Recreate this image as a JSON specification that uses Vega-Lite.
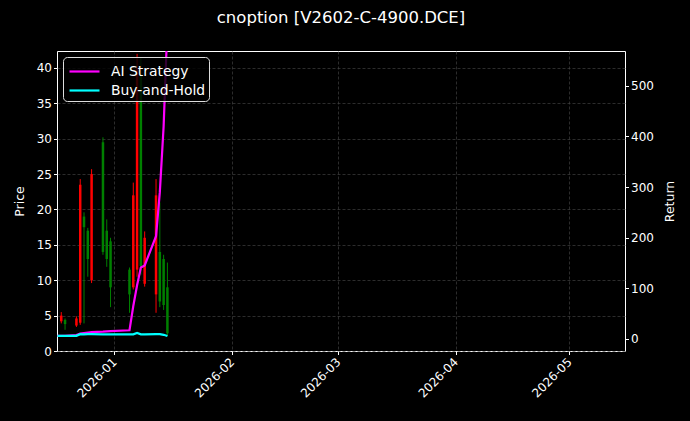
{
  "$schema": "https://vega.github.io/schema/vega-lite/v6.json",
  "width": 568,
  "height": 300,
  "autosize": {"type": "none"},
  "padding": {"left": 57, "top": 51, "right": 65, "bottom": 70},
  "background": "black",
  "title": {
    "text": "cnoption [V2602-C-4900.DCE]",
    "color": "white",
    "font": "DejaVu Sans",
    "fontSize": 16.5,
    "fontWeight": "normal",
    "anchor": "middle",
    "offset": 25
  },
  "config": {
    "view": {"stroke": "white", "strokeWidth": 1},
    "axis": {
      "domain": false,
      "labelColor": "white",
      "labelFont": "DejaVu Sans",
      "labelFontSize": 12,
      "labelOverlap": false,
      "titleColor": "white",
      "titleFont": "DejaVu Sans",
      "titleFontSize": 12.5,
      "titleFontWeight": "normal",
      "tickColor": "white",
      "tickSize": 3.5,
      "gridColor": "#4a4a4a",
      "gridDash": [3, 2],
      "gridWidth": 0.6
    },
    "legend": {
      "orient": "top-left",
      "offset": 6,
      "padding": 3,
      "fillColor": "rgba(0,0,0,0.8)",
      "strokeColor": "#dddddd",
      "cornerRadius": 4,
      "labelColor": "white",
      "labelFont": "DejaVu Sans",
      "labelFontSize": 13.9,
      "symbolSize": 400,
      "symbolStrokeWidth": 2.2,
      "symbolOffset": 7,
      "labelOffset": 15,
      "rowPadding": -1,
      "title": null
    }
  },
  "datasets": {
    "candles": [
      {"date": "2025-12-18T00:00:00", "open": 4.2, "high": 5.5, "low": 3.9, "close": 5.0},
      {"date": "2025-12-19T00:00:00", "open": 4.4, "high": 4.6, "low": 3.0, "close": 3.8},
      {"date": "2025-12-22T00:00:00", "open": 3.6, "high": 4.9, "low": 3.4, "close": 4.6},
      {"date": "2025-12-23T00:00:00", "open": 4.0, "high": 24.3, "low": 3.7, "close": 23.5},
      {"date": "2025-12-24T00:00:00", "open": 19.0, "high": 19.6, "low": 3.9, "close": 17.5},
      {"date": "2025-12-25T00:00:00", "open": 17.0, "high": 17.4, "low": 10.5, "close": 13.0},
      {"date": "2025-12-26T00:00:00", "open": 10.0, "high": 25.7, "low": 9.6, "close": 25.0},
      {"date": "2025-12-29T00:00:00", "open": 29.5, "high": 30.2, "low": 13.6, "close": 14.0},
      {"date": "2025-12-30T00:00:00", "open": 17.0, "high": 18.6, "low": 11.9, "close": 13.0},
      {"date": "2025-12-31T00:00:00", "open": 15.5, "high": 16.0, "low": 6.2, "close": 9.0},
      {"date": "2026-01-05T00:00:00", "open": 11.5, "high": 11.8, "low": 5.4, "close": 8.0},
      {"date": "2026-01-06T00:00:00", "open": 9.0, "high": 23.8, "low": 8.7, "close": 22.0},
      {"date": "2026-01-07T00:00:00", "open": 11.5, "high": 42.0, "low": 10.5, "close": 40.0},
      {"date": "2026-01-08T00:00:00", "open": 39.0, "high": 41.5, "low": 10.8, "close": 12.0},
      {"date": "2026-01-09T00:00:00", "open": 9.5, "high": 16.9, "low": 9.1, "close": 16.0},
      {"date": "2026-01-12T00:00:00", "open": 8.0, "high": 24.3, "low": 5.4, "close": 22.0},
      {"date": "2026-01-13T00:00:00", "open": 14.0, "high": 21.0, "low": 6.2, "close": 7.0},
      {"date": "2026-01-14T00:00:00", "open": 13.0, "high": 13.6, "low": 5.8, "close": 6.5},
      {"date": "2026-01-15T00:00:00", "open": 9.0, "high": 12.5, "low": 2.1, "close": 2.5}
    ],
    "returns": [
      {"date": "2025-12-17T00:00:00", "series": "AI Strategy", "ret": 5.9},
      {"date": "2025-12-18T00:00:00", "series": "AI Strategy", "ret": 5.9},
      {"date": "2025-12-19T00:00:00", "series": "AI Strategy", "ret": 5.9},
      {"date": "2025-12-22T00:00:00", "series": "AI Strategy", "ret": 7.5},
      {"date": "2025-12-23T00:00:00", "series": "AI Strategy", "ret": 10.5},
      {"date": "2025-12-24T00:00:00", "series": "AI Strategy", "ret": 11.5},
      {"date": "2025-12-25T00:00:00", "series": "AI Strategy", "ret": 12.5},
      {"date": "2025-12-26T00:00:00", "series": "AI Strategy", "ret": 13.3},
      {"date": "2025-12-29T00:00:00", "series": "AI Strategy", "ret": 14.3},
      {"date": "2025-12-30T00:00:00", "series": "AI Strategy", "ret": 14.8},
      {"date": "2025-12-31T00:00:00", "series": "AI Strategy", "ret": 15.3},
      {"date": "2026-01-05T00:00:00", "series": "AI Strategy", "ret": 17.0},
      {"date": "2026-01-06T00:00:00", "series": "AI Strategy", "ret": 65},
      {"date": "2026-01-07T00:00:00", "series": "AI Strategy", "ret": 106},
      {"date": "2026-01-08T00:00:00", "series": "AI Strategy", "ret": 141},
      {"date": "2026-01-09T00:00:00", "series": "AI Strategy", "ret": 145},
      {"date": "2026-01-12T00:00:00", "series": "AI Strategy", "ret": 203},
      {"date": "2026-01-13T00:00:00", "series": "AI Strategy", "ret": 290},
      {"date": "2026-01-14T00:00:00", "series": "AI Strategy", "ret": 420},
      {"date": "2026-01-15T00:00:00", "series": "AI Strategy", "ret": 620},
      {"date": "2025-12-17T00:00:00", "series": "Buy-and-Hold", "ret": 5.9},
      {"date": "2025-12-18T00:00:00", "series": "Buy-and-Hold", "ret": 5.9},
      {"date": "2025-12-19T00:00:00", "series": "Buy-and-Hold", "ret": 5.9},
      {"date": "2025-12-22T00:00:00", "series": "Buy-and-Hold", "ret": 5.9},
      {"date": "2025-12-23T00:00:00", "series": "Buy-and-Hold", "ret": 9.3},
      {"date": "2025-12-24T00:00:00", "series": "Buy-and-Hold", "ret": 9.0},
      {"date": "2025-12-25T00:00:00", "series": "Buy-and-Hold", "ret": 9.3},
      {"date": "2025-12-26T00:00:00", "series": "Buy-and-Hold", "ret": 9.3},
      {"date": "2025-12-29T00:00:00", "series": "Buy-and-Hold", "ret": 9.0},
      {"date": "2025-12-30T00:00:00", "series": "Buy-and-Hold", "ret": 9.0},
      {"date": "2025-12-31T00:00:00", "series": "Buy-and-Hold", "ret": 9.0},
      {"date": "2026-01-05T00:00:00", "series": "Buy-and-Hold", "ret": 9.0},
      {"date": "2026-01-06T00:00:00", "series": "Buy-and-Hold", "ret": 9.0},
      {"date": "2026-01-07T00:00:00", "series": "Buy-and-Hold", "ret": 11.8},
      {"date": "2026-01-08T00:00:00", "series": "Buy-and-Hold", "ret": 9.0},
      {"date": "2026-01-09T00:00:00", "series": "Buy-and-Hold", "ret": 9.0},
      {"date": "2026-01-12T00:00:00", "series": "Buy-and-Hold", "ret": 9.5},
      {"date": "2026-01-13T00:00:00", "series": "Buy-and-Hold", "ret": 9.5},
      {"date": "2026-01-14T00:00:00", "series": "Buy-and-Hold", "ret": 8.0},
      {"date": "2026-01-15T00:00:00", "series": "Buy-and-Hold", "ret": 5.5}
    ]
  },
  "encoding": {
    "x": {
      "field": "date",
      "type": "temporal",
      "scale": {
        "domain": [
          {"year": 2025, "month": 12, "date": 16, "hours": 21},
          {"year": 2026, "month": 5, "date": 15, "hours": 17}
        ],
        "nice": false
      },
      "axis": {
        "title": null,
        "format": "%Y-%m",
        "values": [
          {"year": 2026, "month": 1, "date": 1},
          {"year": 2026, "month": 2, "date": 1},
          {"year": 2026, "month": 3, "date": 1},
          {"year": 2026, "month": 4, "date": 1},
          {"year": 2026, "month": 5, "date": 1}
        ],
        "labelAngle": -45,
        "labelAlign": "right",
        "labelBaseline": "middle",
        "labelPadding": 5
      }
    }
  },
  "layer": [
    {
      "data": {"name": "candles"},
      "encoding": {
        "color": {
          "condition": {"test": "datum.close > datum.open", "value": "#ff0000"},
          "value": "#008000"
        }
      },
      "layer": [
        {
          "mark": {"type": "rule", "strokeWidth": 1, "clip": true},
          "encoding": {
            "y": {
              "field": "low",
              "type": "quantitative",
              "scale": {"domain": [0, 42.4], "nice": false, "zero": false},
              "axis": {"title": "Price", "values": [0, 5, 10, 15, 20, 25, 30, 35, 40], "labelOverlap": false, "titlePadding": 10}
            },
            "y2": {"field": "high"}
          }
        },
        {
          "mark": {"type": "rule", "strokeWidth": 2.5, "clip": true},
          "encoding": {
            "y": {
              "field": "open",
              "type": "quantitative",
              "scale": {"domain": [0, 42.4], "nice": false, "zero": false},
              "axis": {"title": "Price", "values": [0, 5, 10, 15, 20, 25, 30, 35, 40], "labelOverlap": false, "titlePadding": 10}
            },
            "y2": {"field": "close"}
          }
        }
      ]
    },
    {
      "data": {"name": "returns"},
      "mark": {"type": "line", "strokeWidth": 2.2, "clip": true},
      "encoding": {
        "y": {
          "field": "ret",
          "type": "quantitative",
          "scale": {"domain": [-24, 569], "nice": false, "zero": false},
          "axis": {"orient": "right", "title": "Return", "titleAngle": 270, "titleBaseline": "top", "values": [0, 100, 200, 300, 400, 500], "titlePadding": 10}
        },
        "color": {
          "field": "series",
          "type": "nominal",
          "scale": {"domain": ["AI Strategy", "Buy-and-Hold"], "range": ["#ff00ff", "#00ffff"]},
          "legend": {"symbolType": "M-1.5,0H1.5"}
        }
      }
    }
  ],
  "resolve": {"scale": {"y": "independent", "color": "independent"}}
}
